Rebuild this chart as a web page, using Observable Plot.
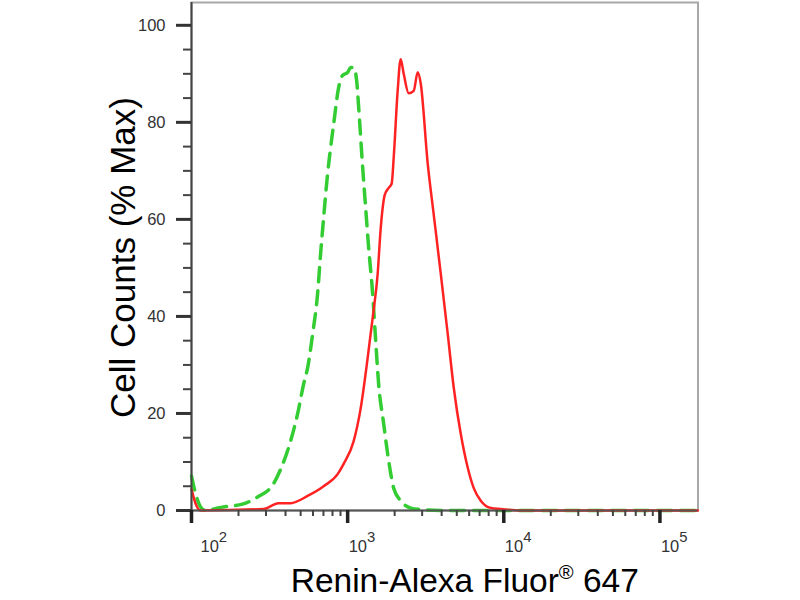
<!DOCTYPE html>
<html><head><meta charset="utf-8">
<script src="https://cdn.jsdelivr.net/npm/d3@7"></script>
<script src="https://cdn.jsdelivr.net/npm/@observablehq/plot@0.6"></script>
<style>html,body{margin:0;padding:0;background:#fff}#chart svg{display:block}</style>
</head><body><div id="chart"></div>
<script>
// ---- data ----
const redX = [100,106,114,289,361,431,554,702,863,943,1093,1211,1344,1446,1557,1627,1727,1832,1915,1972,2092,2186,2286,2460,2649,2810,2938,3257,3559,3947,4375,4781,5301,5877,6422,7121,8254,9568,12850,175000];
const redY = [4.4,1.5,0,0.3,1.5,1.5,3,5,7.5,9.6,14.3,21,31.5,39.7,48.8,58,65,66.5,67.4,72.7,86.6,93,90,86,86.5,90.3,88,71.5,61,48.8,36.4,25.3,15.8,8.8,4.6,2,0.5,0.3,0,0];
const greenX = [100,106,114,123,147,158,212,265,335,372,431,478,522,554,597,642,671,702,744,778,814,876,929,1000,1045,1093,1142,1177,1248,1304,1363,1446,1512,1580,1701,1832,1972,2186,2534,2938,3947,175000];
const greenY = [7.1,3.6,0.8,0,0.5,0.7,1.3,2.8,5.5,8.5,14.3,19.9,26,29.4,36.4,44.7,52.9,60.4,69.4,74.8,79.7,87.2,89.7,90.3,91.3,91.3,88.6,83,70.7,62.4,54.2,44.7,35,26,17.9,10.2,4.6,2,0.5,0.2,0,0];

const xDomain = [100, 175300];
const yDomain = [0, 104.7];
const xMajorTicks = [100, 1000, 10000, 100000];
const xTickBase = "10";
const xTickExponents = ["2", "3", "4", "5"];
const xMinorTicks = [200,300,400,500,600,700,800,900,2000,3000,4000,5000,6000,7000,8000,9000,20000,30000,40000,50000,60000,70000,80000,90000];
const yMajorTicks = [0, 20, 40, 60, 80, 100];
const yMinorTicks = [5,10,15,25,30,35,45,50,55,65,70,75,85,90,95];
const yTitle = "Cell Counts (% Max)";
const xTitleParts = ["Renin-Alexa Fluor", "®", " 647"];

const red = redX.map((x, i) => ({x, y: redY[i]}));
const green = greenX.map((x, i) => ({x, y: greenY[i]}));

const font = "'Liberation Sans', Arial, Helvetica, sans-serif";

const plot = Plot.plot({
  width: 800, height: 600,
  marginLeft: 191, marginRight: 102.5, marginTop: 2, marginBottom: 90,
  style: {fontFamily: font, background: "#fff", overflow: "visible"},
  x: {type: "log", domain: xDomain, axis: null},
  y: {domain: yDomain, axis: null},
  marks: [
    Plot.frame({stroke: "#a8a8a8", strokeWidth: 2}),
    Plot.line(green, {x: "x", y: "y", stroke: "#33cc33", strokeWidth: 3.5, strokeDasharray: "14,9", curve: "monotone-x"}),
    Plot.line(red, {x: "x", y: "y", stroke: "#ff2222", strokeWidth: 2.5, curve: "monotone-x"}),
    Plot.ruleY([yDomain[0]], {stroke: "#555", strokeWidth: 2}),
    Plot.ruleX([xDomain[0]], {stroke: "#444", strokeWidth: 2}),
    Plot.axisY({ticks: yMinorTicks, tickSize: 8, tickFormat: () => "", label: null, stroke: "#444", strokeWidth: 2}),
    Plot.axisY({ticks: yMajorTicks, tickSize: 15, tickPadding: 11, fontSize: 16.5, label: null, stroke: "#333", strokeWidth: 3, fill: "#333"}),
    Plot.axisX({ticks: xMinorTicks, tickSize: 6, tickFormat: () => "", label: null, stroke: "#444", strokeWidth: 2}),
    Plot.axisX({ticks: xMajorTicks, tickSize: 13, tickPadding: 17, fontSize: 16.5, label: null, stroke: "#222", strokeWidth: 3.5, fill: "#333", textAnchor: "start", tickFormat: () => xTickBase}),
    Plot.text([yTitle], {frameAnchor: "left", textAnchor: "middle", rotate: -90, dx: -57, dy: 1, fontSize: 35, lineAnchor: "bottom", fill: "#000"}),
    Plot.text([xTitleParts.join("")], {frameAnchor: "bottom", textAnchor: "middle", dx: 20, dy: 81, fontSize: 33.5, lineAnchor: "bottom", fill: "#000"})
  ]
});

// superscripts for tick labels and the ® sign
const sel = d3.select(plot);
let k = 0;
sel.selectAll("text").each(function() {
  const t = d3.select(this);
  if (this.textContent === xTickBase) {
    const i = k++;
    t.text(xTickBase).attr("dx", i === 0 ? 9 : 1);
    t.append("tspan").attr("dy", "-0.72em").attr("font-size", "0.9em").text(xTickExponents[i]);
  } else if (this.textContent === xTitleParts.join("")) {
    t.text(xTitleParts[0]);
    t.append("tspan").attr("dy", -13).attr("font-size", "0.6em").text(xTitleParts[1]);
    t.append("tspan").attr("dy", 13).text(xTitleParts[2]);
  }
});

document.getElementById("chart").appendChild(plot);
</script></body></html>
